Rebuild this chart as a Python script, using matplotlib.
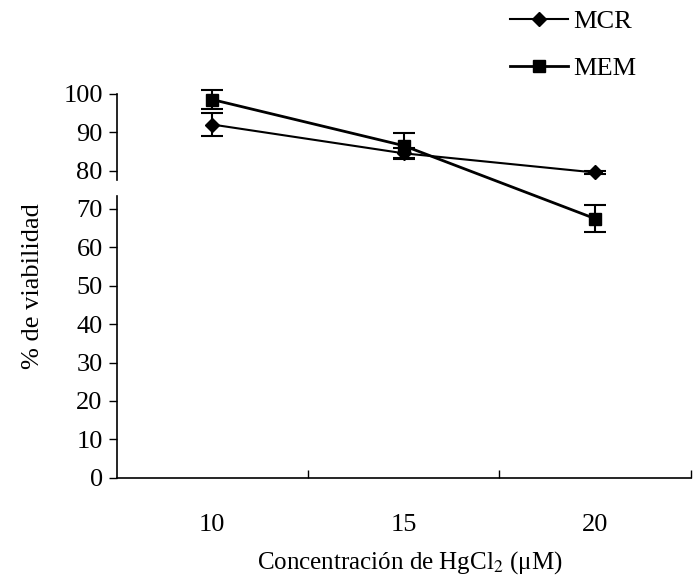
import matplotlib
matplotlib.use("Agg")
import matplotlib.pyplot as plt
from matplotlib.lines import Line2D

conc = ["10", "15", "20"]
mcr = [92.0, 84.5, 79.5]
mcr_err = [3.0, 1.5, 0.5]
mem = [98.5, 86.5, 67.5]
mem_err = [2.5, 3.2, 3.6]
yticks = [0, 10, 20, 30, 40, 50, 60, 70, 80, 90, 100]

plt.rcParams["font.family"] = ["Liberation Serif", "DejaVu Serif"]
plt.rcParams["mathtext.fontset"] = "stix"

fig = plt.figure(figsize=(6.94, 5.79), dpi=100)
ax = fig.add_axes([0.168, 0.175, 0.827, 0.663])

x = list(range(len(conc)))
ax.errorbar(x, mcr, yerr=mcr_err, color="black", marker="D", markersize=7,
            lw=1.5, capsize=8, elinewidth=1.5, capthick=1.5, clip_on=False)
ax.errorbar(x, mem, yerr=mem_err, color="black", marker="s", markersize=9,
            lw=2.0, capsize=8, elinewidth=1.5, capthick=1.5, clip_on=False)

ax.set_xlim(-0.5, 2.5)
ax.set_ylim(0, 100)
ax.set_yticks(yticks)
ax.set_xticks(x)
ax.set_xticklabels(conc)
ax.set_xticks([0.5, 1.5, 2.5], minor=True)
ax.tick_params(axis="x", which="major", length=0, pad=26, labelsize=19)
ax.tick_params(axis="x", which="minor", length=6, direction="in", width=1)
ax.tick_params(axis="y", length=6, direction="out", width=1, labelsize=19, pad=4)

for s in ["top", "right"]:
    ax.spines[s].set_visible(False)
ax.spines["bottom"].set_linewidth(1.2)
ax.spines["left"].set_linewidth(1.2)
# broken y axis between 70 and 80
ax.spines["left"].set_bounds(0, 73.5)
ax.plot([0, 0], [77.5, 100], color="black", lw=1.2,
        transform=ax.get_yaxis_transform(), clip_on=False)

ax.set_ylabel("% de viabilidad", fontsize=19, labelpad=14)
fig.text(0.59, 0.006, "Concentración de HgCl$_2$ (μM)", fontsize=18,
         ha="center", va="bottom")

handles = [Line2D([], [], color="black", marker="D", markersize=7, lw=1.5),
           Line2D([], [], color="black", marker="s", markersize=9, lw=2.0)]
fig.legend(handles, ["MCR", "MEM"], loc="upper left", bbox_to_anchor=(0.70, 1.025),
           frameon=False, fontsize=19, handlelength=2.2, handletextpad=0.2,
           labelspacing=0.9)

fig.savefig("out.png", dpi=100)
